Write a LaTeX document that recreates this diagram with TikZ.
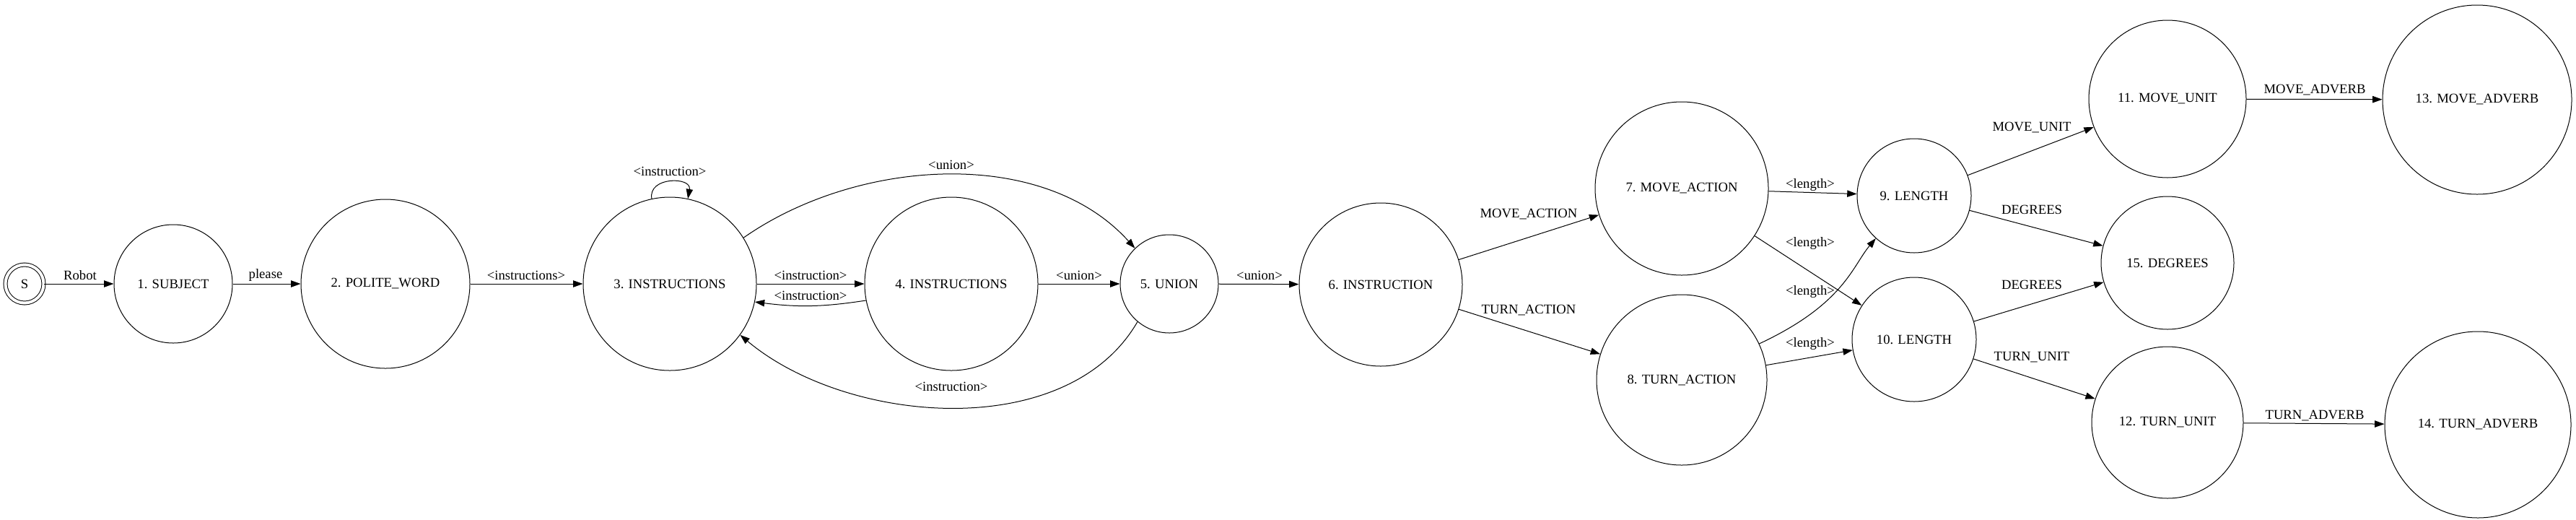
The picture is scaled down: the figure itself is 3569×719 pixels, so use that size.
\documentclass[tikz,border=0pt]{standalone}
\usepackage{fontspec}
\setmainfont{Liberation Serif}
\usetikzlibrary{arrows.meta}
\begin{document}
\begin{tikzpicture}[x=0.75pt, y=-0.75pt, >={Triangle[length=10pt, width=7pt]},
    every node/.style={font=\fontsize{14pt}{16pt}\selectfont},
    state/.style={circle, draw, line width=0.75pt, inner sep=0pt, minimum size=#1},
    lbl/.style={inner sep=0pt},
    trans/.style={->, line width=0.75pt}]
    \useasboundingbox (0,0) rectangle (3569,719);
    \node[state=39.75pt, double, double distance=3pt] (S) at (34,393) {S};
    \node[state=123pt] (1) at (240,393) {1. SUBJECT};
    \node[state=175.5pt] (2) at (534,393) {2. POLITE\_WORD};
    \node[state=180pt] (3) at (928,393) {3. INSTRUCTIONS};
    \node[state=180pt] (4) at (1318,393) {4. INSTRUCTIONS};
    \node[state=102pt] (5) at (1620,393) {5. UNION};
    \node[state=169.5pt] (6) at (1913,394) {6. INSTRUCTION};
    \node[state=180pt] (7) at (2330,261) {7. MOVE\_ACTION};
    \node[state=177pt] (8) at (2330,526) {8. TURN\_ACTION};
    \node[state=118.5pt] (9) at (2652,271) {9. LENGTH};
    \node[state=129pt] (10) at (2652,470) {10. LENGTH};
    \node[state=163.5pt] (11) at (3003,137) {11. MOVE\_UNIT};
    \node[state=157.5pt] (12) at (3003,585) {12. TURN\_UNIT};
    \node[state=196.5pt] (13) at (3432,138) {13. MOVE\_ADVERB};
    \node[state=193.5pt] (14) at (3433,588) {14. TURN\_ADVERB};
    \node[state=138pt] (15) at (3003,364) {15. DEGREES};
    \draw[trans] (S) -- (1) node[lbl] at (111,381) {Robot};
    \draw[trans] (1) -- (2) node[lbl] at (368,381) {please};
    \draw[trans] (2) -- (3) node[lbl] at (729,381) {<instructions>};
    \draw[trans] (3.102) to[out=100, in=80, looseness=1.6] (3.78) node[lbl] at (928,237) {<instruction>};
    \draw[trans] (3) -- (4) node[lbl] at (1123,381) {<instruction>};
    \draw[trans] (4.191) to[bend left=8] (3.348) node[lbl] at (1123,409) {<instruction>};
    \draw[trans] (3.32) to[out=35, in=132, looseness=0.9] (5.134) node[lbl] at (1318,228) {<union>};
    \draw[trans] (4) -- (5) node[lbl] at (1495,381) {<union>};
    \draw[trans] (5.230) to[out=240, in=-40, looseness=0.9] (3.324) node[lbl] at (1318,535) {<instruction>};
    \draw[trans] (5) -- (6) node[lbl] at (1745,381) {<union>};
    \draw[trans] (6) -- (7) node[lbl] at (2118,297) {MOVE\_ACTION};
    \draw[trans] (6) -- (8) node[lbl] at (2118,430) {TURN\_ACTION};
    \draw[trans] (7) -- (9) node[lbl] at (2508,256) {<length>};
    \draw[trans] (7) -- (10) node[lbl] at (2508,337) {<length>};
    \draw[trans] (8.25) .. controls (2555,421) and (2566,369) .. (9.228) node[lbl] at (2508,404) {<length>};
    \draw[trans] (8) -- (10) node[lbl] at (2508,476) {<length>};
    \draw[trans] (9) -- (11) node[lbl] at (2815,177) {MOVE\_UNIT};
    \draw[trans] (9) -- (15) node[lbl] at (2815,290) {DEGREES};
    \draw[trans] (10) -- (15) node[lbl] at (2815,394) {DEGREES};
    \draw[trans] (10) -- (12) node[lbl] at (2815,495) {TURN\_UNIT};
    \draw[trans] (11) -- (13) node[lbl] at (3207,125) {MOVE\_ADVERB};
    \draw[trans] (12) -- (14) node[lbl] at (3207,576) {TURN\_ADVERB};
\end{tikzpicture}
\end{document}
